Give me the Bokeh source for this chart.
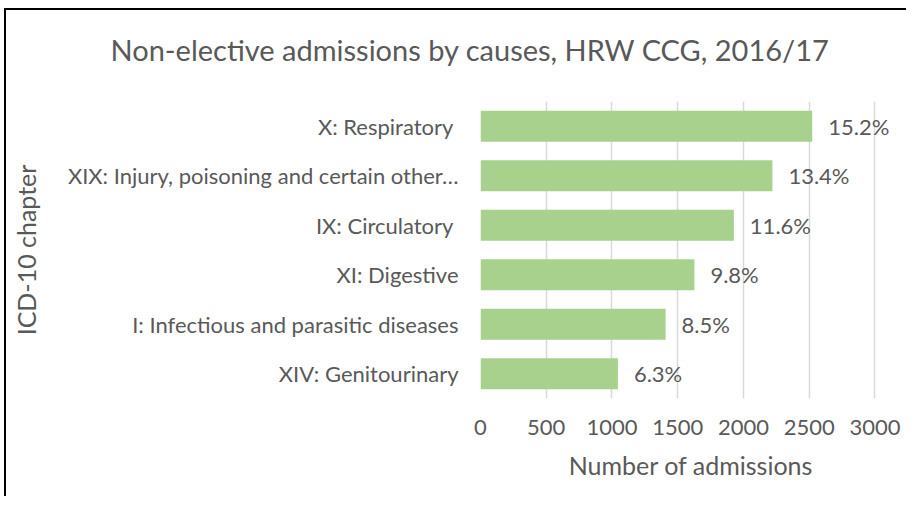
from bokeh.plotting import figure
from bokeh.models import FactorRange, Range1d, LabelSet, ColumnDataSource, FixedTicker
from bokeh.core.properties import value
from bokeh.embed import file_html
from bokeh.resources import INLINE

# Data (top to bottom as shown)
chapters = ["X: Respiratory\u00a0", "XIX: Injury, poisoning and certain other\u2026",
            "IX: Circulatory\u00a0", "XI: Digestive",
            "I: Infectious and parasitic diseases", "XIV: Genitourinary"]
admissions = [2523, 2220, 1927, 1627, 1408, 1045]
shares = ["15.2%", "13.4%", "11.6%", "9.8%", "8.5%", "6.3%"]
x_ticks = [0, 500, 1000, 1500, 2000, 2500, 3000]

FONT = "Lato"
GREY = "#595959"

src = ColumnDataSource(dict(ch=chapters, n=admissions, s=shares))

# frame extends a little past 3000 so the value labels are not clipped
p = figure(width=906, height=496, output_backend="svg", toolbar_location=None,
           y_range=FactorRange(*list(reversed(chapters))), x_range=Range1d(0, 3202),
           min_border_left=480, min_border_right=5, min_border_top=101, min_border_bottom=98)
# chart-area frame (left and top edges), drawn behind the transparent canvas
p.styles = {
    "background-image": "linear-gradient(#000, #000), linear-gradient(#000, #000)",
    "background-size": "2px 100%, 100% 2px",
    "background-position": "4px 8px, 4px 8px",
    "background-repeat": "no-repeat",
}
p.outline_line_color = None
p.background_fill_color = "white"
p.border_fill_color = None

p.hbar(y="ch", right="n", left=0, height=0.63, source=src,
       fill_color="#a9d18e", line_color=None)
p.add_layout(LabelSet(x="n", y="ch", text="s", source=src, x_offset=16,
                      text_align="left", text_baseline="middle", text_color=GREY,
                      text_font=value(FONT), text_font_size="22px"))

p.xaxis.ticker = FixedTicker(ticks=x_ticks)
p.xgrid.ticker = FixedTicker(ticks=x_ticks)
p.xgrid.grid_line_color = "#d9d9d9"
p.xgrid.grid_line_width = 1.5
p.ygrid.grid_line_color = None

for ax in (p.xaxis[0], p.yaxis[0]):
    ax.axis_line_color = None
    ax.major_tick_line_color = None
    ax.minor_tick_line_color = None
    ax.major_tick_out = 0
    ax.major_tick_in = 0
    ax.major_label_text_color = GREY
    ax.major_label_text_font = FONT
    ax.major_label_text_font_size = "22px"
    ax.axis_label_text_color = GREY
    ax.axis_label_text_font = FONT
    ax.axis_label_text_font_size = "25px"
    ax.axis_label_text_font_style = "normal"

p.xaxis.axis_label = "Number of admissions"
p.xaxis.major_label_standoff = 21
p.xaxis.axis_label_standoff = 12
p.yaxis.axis_label = "ICD-10 chapter"
p.yaxis.major_label_standoff = 22
p.yaxis.axis_label_standoff = 24

p.title.text = "Non-elective admissions by causes, HRW CCG, 2016/17\n"
p.title.align = "left"
p.title.offset = -370
p.title.standoff = 0
p.title.text_color = GREY
p.title.text_font = FONT
p.title.text_font_size = "29px"
p.title.text_font_style = "normal"

open("out.html", "w").write(file_html(p, INLINE))
